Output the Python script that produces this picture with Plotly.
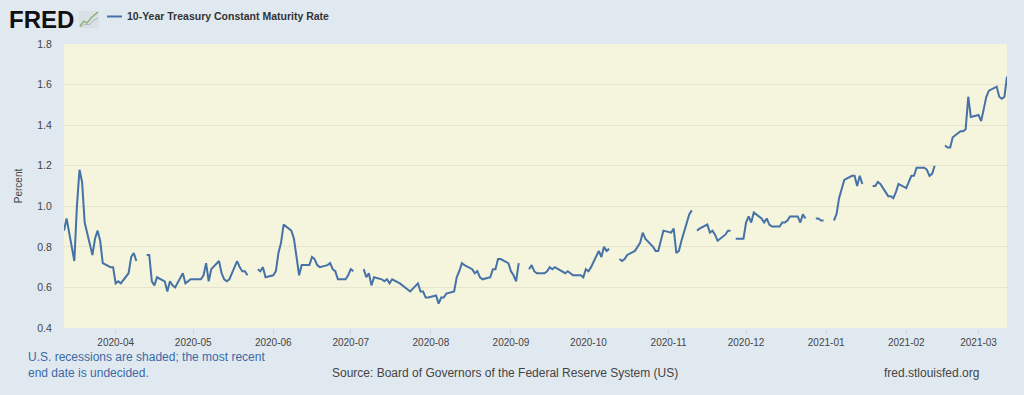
import pandas as pd
import plotly.graph_objects as go

# ---------------- data (10-Year Treasury Constant Maturity Rate, percent) ----------------
# business days per month; None = market holiday (gap in line)
mar_2020 = [0.88, 0.94, 0.73, 1.00, 1.18, 1.12, 0.92, 0.76, 0.84, 0.88, 0.83, 0.72, 0.70, 0.70]
apr_2020 = [0.62, 0.63, 0.62, 0.67, 0.75, 0.77, 0.73, None, 0.76, 0.76, 0.63, 0.61, 0.65,
            0.63, 0.58, 0.63, 0.61, 0.60, 0.67, 0.62, 0.63, 0.64]
may_2020 = [0.64, 0.64, 0.66, 0.72, 0.63, 0.69, 0.73, 0.67, 0.64, 0.63, 0.64,
            0.73, 0.70, 0.68, 0.68, 0.66, None, 0.69, 0.68, 0.70, 0.65]
jun_2020 = [0.66, 0.68, 0.77, 0.82, 0.91, 0.88, 0.84, 0.75, 0.66, 0.71, 0.71, 0.75, 0.74,
            0.71, 0.70, 0.71, 0.72, 0.69, 0.68, 0.64, 0.64, 0.66]
jul_2020 = [0.69, 0.68, None, 0.69, 0.65, 0.67, 0.61, 0.65, 0.64, 0.63, 0.64, 0.62, 0.64,
            0.62, 0.61, 0.60, 0.59, 0.58, 0.62, 0.58, 0.58, 0.55, 0.55]
aug_2020 = [0.56, 0.52, 0.55, 0.55, 0.57, 0.58, 0.65, 0.68, 0.72, 0.71, 0.69, 0.67, 0.68,
            0.65, 0.64, 0.65, 0.69, 0.69, 0.74, 0.74, 0.72]
sep_2020 = [0.68, 0.66, 0.63, 0.72, None, 0.69, 0.71, 0.68, 0.67, 0.67, 0.68, 0.70, 0.69,
            0.70, 0.68, 0.67, 0.68, 0.67, 0.66, 0.66, 0.65, 0.69]
oct_2020 = [0.68, 0.70, 0.78, 0.75, 0.80, 0.78, 0.79, None, 0.74, 0.73, 0.74, 0.76, 0.78,
            0.80, 0.82, 0.87, 0.84, 0.80, 0.78, 0.78, 0.83, 0.88]
nov_2020 = [0.87, 0.89, 0.77, 0.78, 0.83, 0.96, 0.98, None, 0.88, 0.89, 0.91, 0.87, 0.88,
            0.86, 0.83, 0.86, 0.88, 0.88, None, 0.84, 0.84]
dec_2020 = [0.92, 0.95, 0.92, 0.97, 0.94, 0.92, 0.94, 0.91, 0.90, 0.90, 0.92, 0.92, 0.93,
            0.95, 0.95, 0.92, 0.96, 0.94, None, 0.94, 0.94, 0.93, 0.93]
jan_2021 = [None, 0.93, 0.96, 1.04, 1.08, 1.13, 1.15, 1.15, 1.10, 1.15, 1.11, None, 1.10,
            1.10, 1.12, 1.11, 1.05, 1.05, 1.04, 1.07, 1.11]
feb_2021 = [1.09, 1.12, 1.15, 1.15, 1.19, 1.19, 1.18, 1.15, 1.16, 1.20, None, 1.30, 1.29,
            1.29, 1.34, 1.37, 1.37, 1.38, 1.54, 1.44]
mar_2021 = [1.45, 1.42, 1.48, 1.54, 1.57, 1.59, 1.54, 1.53, 1.54, 1.64]

months = [
    ("2020-03-12", "2020-03-31", mar_2020),
    ("2020-04-01", "2020-04-30", apr_2020),
    ("2020-05-01", "2020-05-31", may_2020),
    ("2020-06-01", "2020-06-30", jun_2020),
    ("2020-07-01", "2020-07-31", jul_2020),
    ("2020-08-01", "2020-08-31", aug_2020),
    ("2020-09-01", "2020-09-30", sep_2020),
    ("2020-10-01", "2020-10-31", oct_2020),
    ("2020-11-01", "2020-11-30", nov_2020),
    ("2020-12-01", "2020-12-31", dec_2020),
    ("2021-01-01", "2021-01-31", jan_2021),
    ("2021-02-01", "2021-02-28", feb_2021),
    ("2021-03-01", "2021-03-12", mar_2021),
]

series_name = "10-Year Treasury Constant Maturity Rate"
y_ticks = [0.4, 0.6, 0.8, 1.0, 1.2, 1.4, 1.6, 1.8]
x_range = ["2020-03-12", "2021-03-12"]
recession_start = "2020-02-01"

dates, values = [], []
for start, end, vals in months:
    d = pd.bdate_range(start, end)
    assert len(d) == len(vals), (start, len(d), len(vals))
    dates.extend(d)
    values.extend(vals)

# ---------------- layout geometry ----------------
W, H = 1024, 395
L, R, T, B = 64, 17, 44, 67
PW, PH = W - L - R, H - T - B


def px(x):
    return (x - L) / PW


def py(y):
    return (H - B - y) / PH


FONT = "Liberation Sans, Arial, Helvetica, sans-serif"
LINE_BLUE = "#4572a7"

fig = go.Figure()
fig.add_trace(go.Scatter(
    x=dates, y=values, mode="lines", name=series_name,
    line=dict(color=LINE_BLUE, width=2), connectgaps=False,
))

# recession shading (ongoing, end date undecided)
fig.add_vrect(x0=recession_start, x1=x_range[1], fillcolor="#f5f4dd", opacity=1,
              line_width=0, layer="below")

fig.update_layout(
    width=W, height=H,
    margin=dict(l=L, r=R, t=T, b=B),
    paper_bgcolor="#e1e9f0",
    plot_bgcolor="#f5f4dd",
    showlegend=False,
    font=dict(family=FONT, size=10.5, color="#444"),
)

fig.update_xaxes(
    range=x_range, dtick="M1", tickformat="%Y-%m",
    tick0="2020-04-01",
    showgrid=False, zeroline=False, showline=False,
    ticks="outside", ticklen=5, tickcolor="#cfd6dc",
    tickfont=dict(size=10, color="#444"),
)
fig.update_yaxes(
    range=[0.4, 1.8], tickvals=y_ticks, tickformat=".1f",
    showgrid=True, gridcolor="#e6e4cd", gridwidth=1,
    zeroline=False, showline=False,
    ticks="outside", ticklen=9, tickcolor="rgba(0,0,0,0)",
    tickfont=dict(size=10.5, color="#444"),
    title=dict(text="Percent", font=dict(size=10, color="#444"), standoff=12),
)

# ---------------- header: FRED logo + legend ----------------
fig.add_annotation(text="<b>FRED</b>", xref="paper", yref="paper",
                   x=px(7), y=py(19), xanchor="left", yanchor="middle",
                   showarrow=False, font=dict(family=FONT, size=24, color="#111"))
# small logo graph icon
fig.add_shape(type="rect", xref="paper", yref="paper",
              x0=px(79), x1=px(99), y0=py(28), y1=py(11),
              fillcolor="#d9e1e4", line=dict(width=0), layer="above")
fig.add_shape(type="path", xref="paper", yref="paper",
              path=f"M {px(80)},{py(26)} L {px(84)},{py(21)} L {px(87)},{py(23)} "
                   f"L {px(92)},{py(17)} L {px(98)},{py(12)}",
              line=dict(color="#86b06c", width=1.3), layer="above")
fig.add_shape(type="path", xref="paper", yref="paper",
              path=f"M {px(80)},{py(27)} L {px(85)},{py(24)} L {px(89)},{py(25)} "
                   f"L {px(94)},{py(20)} L {px(98)},{py(18)}",
              line=dict(color="#a9b6bd", width=1), layer="above")

# legend sample
fig.add_shape(type="line", xref="paper", yref="paper",
              x0=px(107), x1=px(122), y0=py(16.5), y1=py(16.5),
              line=dict(color=LINE_BLUE, width=2))
fig.add_annotation(text=f"<b>{series_name}</b>", xref="paper", yref="paper",
                   x=px(125), y=py(16.5), xanchor="left", yanchor="middle",
                   showarrow=False, font=dict(family=FONT, size=10.5, color="#333"))

# ---------------- footer ----------------
fig.add_annotation(text="U.S. recessions are shaded; the most recent<br>end date is undecided.",
                   xref="paper", yref="paper", x=px(26), y=py(365),
                   xanchor="left", yanchor="middle", align="left", showarrow=False,
                   font=dict(family=FONT, size=12, color="#3a6aa6"))
fig.add_annotation(text="Source: Board of Governors of the Federal Reserve System (US)",
                   xref="paper", yref="paper", x=px(330), y=py(373),
                   xanchor="left", yanchor="middle", showarrow=False,
                   font=dict(family=FONT, size=12, color="#444"))
fig.add_annotation(text="fred.stlouisfed.org",
                   xref="paper", yref="paper", x=px(981), y=py(373),
                   xanchor="right", yanchor="middle", showarrow=False,
                   font=dict(family=FONT, size=12, color="#444"))

fig.write_html("out.html", config={"displayModeBar": False},
               post_script="document.body.style.margin='0';")
